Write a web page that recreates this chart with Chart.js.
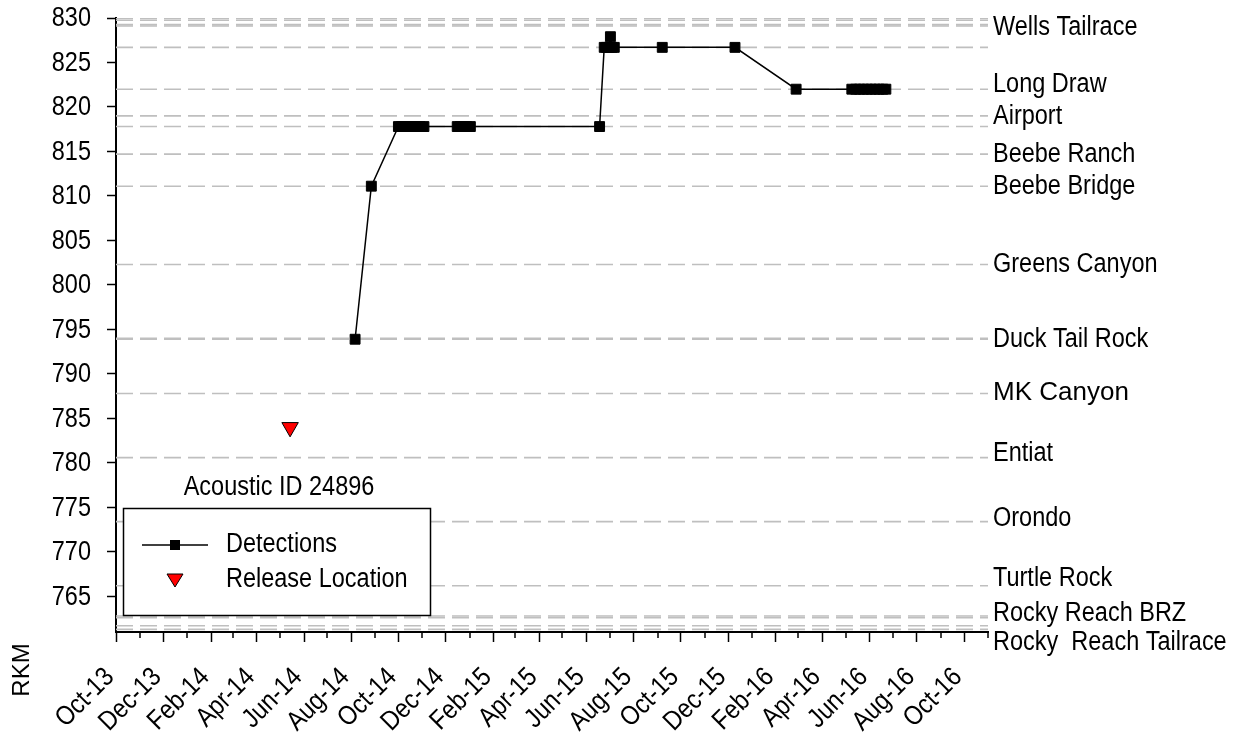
<!DOCTYPE html>
<html>
<head>
<meta charset="utf-8">
<title>Acoustic ID 24896</title>
<script src="https://cdn.jsdelivr.net/npm/chart.js@4/dist/chart.umd.min.js"></script>
<style>
  html, body { margin: 0; padding: 0; background: #ffffff; }
  #wrap { width: 1247px; height: 736px; position: relative; }
</style>
</head>
<body>
<div id="wrap"><canvas id="chart" width="1247" height="736"></canvas></div>
<script>
// ---- data ---------------------------------------------------------------
const chartTitle = 'Acoustic ID 24896';
const yAxisTitle = 'RKM';
const legendLabels = ['Detections', 'Release Location'];

// detections of the tagged fish (date, river kilometre)
const detectionDates = [
  '2014-08-06', '2014-08-27',
  '2014-10-01', '2014-10-05', '2014-10-09', '2014-10-13', '2014-10-17',
  '2014-10-21', '2014-10-25', '2014-10-29', '2014-11-03',
  '2014-12-16', '2014-12-20', '2014-12-24', '2014-12-28', '2015-01-02',
  '2015-06-18',
  '2015-06-24', '2015-06-27', '2015-06-30', '2015-07-02', '2015-07-04', '2015-07-07',
  '2015-09-07', '2015-12-10', '2016-02-27',
  '2016-05-09', '2016-05-14', '2016-05-19', '2016-05-24', '2016-05-29',
  '2016-06-03', '2016-06-08', '2016-06-13', '2016-06-18', '2016-06-22'
];
const detectionRkm = [
  793.9, 811.1,
  817.8, 817.8, 817.8, 817.8, 817.8,
  817.8, 817.8, 817.8, 817.8,
  817.8, 817.8, 817.8, 817.8, 817.8,
  817.8,
  826.7, 826.7, 826.7, 827.9, 826.7, 826.7,
  826.7, 826.7, 822.0,
  822.0, 822.0, 822.0, 822.0, 822.0,
  822.0, 822.0, 822.0, 822.0, 822.0
];

const releaseDates = ['2014-05-14'];
const releaseRkm = [784.0];

// receiver positions (dashed reference lines)
const receiverRkm = [
  829.95, 829.75, 829.25, 829.1, 826.7, 822.0, 819.0, 817.8, 814.7, 811.1,
  802.3, 794.0, 793.9, 787.8, 780.6, 773.4, 766.2, 762.8, 762.6, 761.7, 761.3
];

// receiver site names and where their names sit on the RKM axis
const stationNames = [
  'Wells Tailrace', 'Long Draw', 'Airport', 'Beebe Ranch', 'Beebe Bridge',
  'Greens Canyon', 'Duck Tail Rock', 'MK Canyon', 'Entiat', 'Orondo',
  'Turtle Rock', 'Rocky Reach BRZ', 'Rocky  Reach Tailrace'
];
const stationLabelRkm = [
  828.9, 822.5, 818.9, 814.7, 811.1,
  802.3, 793.9, 787.9, 781.0, 773.8,
  767.0, 763.1, 759.8
];
const regularFontStations = ['MK Canyon'];

// axes
const yMin = 761, yMax = 830;
const yTickValues = [765, 770, 775, 780, 785, 790, 795, 800, 805, 810, 815, 820, 825, 830];
const axisStart = '2013-10-01';
const axisEnd = '2016-11-01';
const xTickDates = [
  '2013-10-01', '2013-12-01', '2014-02-01', '2014-04-01', '2014-06-01', '2014-08-01',
  '2014-10-01', '2014-12-01', '2015-02-01', '2015-04-01', '2015-06-01', '2015-08-01',
  '2015-10-01', '2015-12-01', '2016-02-01', '2016-04-01', '2016-06-01', '2016-08-01',
  '2016-10-01'
];
const xTickLabels = [
  'Oct-13', 'Dec-13', 'Feb-14', 'Apr-14', 'Jun-14', 'Aug-14',
  'Oct-14', 'Dec-14', 'Feb-15', 'Apr-15', 'Jun-15', 'Aug-15',
  'Oct-15', 'Dec-15', 'Feb-16', 'Apr-16', 'Jun-16', 'Aug-16',
  'Oct-16'
];
const xMinorDates = [
  '2013-11-01', '2014-01-01', '2014-03-01', '2014-05-01', '2014-07-01', '2014-09-01',
  '2014-11-01', '2015-01-01', '2015-03-01', '2015-05-01', '2015-07-01', '2015-09-01',
  '2015-11-01', '2016-01-01', '2016-03-01', '2016-05-01', '2016-07-01', '2016-09-01',
  '2016-11-01'
];

// ---- helpers ------------------------------------------------------------
const SANS = "'Liberation Sans', Arial, sans-serif";
const TEXT_SIZE = 27;       // condensed text size
const CONDENSE = 0.87;      // horizontal squeeze giving a narrow face

function dayNumber(iso) {
  const [y, m, d] = iso.split('-').map(Number);
  return Date.UTC(y, m - 1, d) / 86400000;
}
const xMin = dayNumber(axisStart);
const xMax = dayNumber(axisEnd);

// draws one text item, optionally rotated and horizontally condensed
function drawText(ctx, text, x, y, o = {}) {
  ctx.save();
  ctx.translate(x, y);
  if (o.rotate) ctx.rotate(o.rotate);
  ctx.scale(o.squeeze ?? CONDENSE, 1);
  ctx.font = (o.size ?? TEXT_SIZE) + 'px ' + SANS;
  ctx.textAlign = o.align ?? 'left';
  ctx.textBaseline = 'middle';
  ctx.fillStyle = '#000';
  ctx.fillText(text, 0, 0);
  ctx.restore();
}

const detectionPoints = detectionDates.map((d, i) => ({ x: dayNumber(d), y: detectionRkm[i] }));
const releasePoints = releaseDates.map((d, i) => ({ x: dayNumber(d), y: releaseRkm[i] }));

const receiverDatasets = receiverRkm.map(v => ({
  data: [{ x: xMin, y: v }, { x: xMax, y: v }],
  borderColor: '#bfbfbf',
  borderWidth: 1.6,
  borderDash: [17, 7],
  pointRadius: 0,
  fill: false,
  order: 10
}));

// ---- custom drawing: tick labels, minor ticks, legend box, site names ----
const decorations = {
  id: 'decorations',
  afterDraw(chart) {
    const ctx = chart.ctx;
    const x = chart.scales.x;
    const y = chart.scales.y;
    const area = chart.chartArea;

    ctx.save();
    // minor month ticks on the date axis
    ctx.strokeStyle = '#000';
    ctx.lineWidth = 1.5;
    ctx.beginPath();
    xMinorDates.forEach(d => {
      const px = Math.round(x.getPixelForValue(dayNumber(d)));
      ctx.moveTo(px, area.bottom);
      ctx.lineTo(px, area.bottom + 6);
    });
    ctx.stroke();

    // RKM tick labels
    y.ticks.forEach(t => {
      drawText(ctx, String(t.value), area.left - 25, y.getPixelForValue(t.value) + 1, { align: 'right' });
    });

    // date tick labels, rotated 45 degrees and ending at their tick
    xTickDates.forEach((d, i) => {
      const px = x.getPixelForValue(dayNumber(d));
      drawText(ctx, xTickLabels[i], px - 6, area.bottom + 41, { align: 'right', rotate: -Math.PI / 4 });
    });

    // legend box
    const box = { left: 123, top: 508, right: 430, bottom: 615 };
    ctx.fillStyle = '#fff';
    ctx.fillRect(box.left, box.top, box.right - box.left, box.bottom - box.top);
    ctx.strokeStyle = '#000';
    ctx.lineWidth = 1.5;
    ctx.strokeRect(box.left + 0.5, box.top + 0.5, box.right - box.left, box.bottom - box.top);

    // legend sample: detections line with square marker
    const rowY1 = 545, rowY2 = 580, sampleX = 175;
    ctx.beginPath();
    ctx.lineWidth = 1.5;
    ctx.moveTo(142, rowY1);
    ctx.lineTo(208, rowY1);
    ctx.stroke();
    ctx.fillStyle = '#000';
    ctx.fillRect(sampleX - 5, rowY1 - 5, 10, 10);

    // legend sample: release triangle
    ctx.beginPath();
    ctx.moveTo(sampleX - 8, rowY2 - 6);
    ctx.lineTo(sampleX + 8, rowY2 - 6);
    ctx.lineTo(sampleX, rowY2 + 7);
    ctx.closePath();
    ctx.fillStyle = '#ff0000';
    ctx.fill();
    ctx.lineWidth = 1;
    ctx.strokeStyle = '#000';
    ctx.stroke();

    drawText(ctx, legendLabels[0], 226, rowY1);
    drawText(ctx, legendLabels[1], 226, rowY2);

    // chart title above the legend
    drawText(ctx, chartTitle, 279, 488, { align: 'center' });

    // receiver site names on the right
    stationNames.forEach((name, i) => {
      const regular = regularFontStations.includes(name);
      drawText(ctx, name, area.right + 5, y.getPixelForValue(stationLabelRkm[i]),
        regular ? { size: 26, squeeze: 1 } : {});
    });

    // axis title
    drawText(ctx, yAxisTitle, 22, 670, { align: 'center', rotate: -Math.PI / 2, size: 24, squeeze: 1 });

    ctx.restore();
  }
};

new Chart(document.getElementById('chart'), {
  type: 'line',
  data: {
    datasets: [
      {
        label: legendLabels[0],
        data: detectionPoints,
        borderColor: '#000',
        borderWidth: 1.5,
        pointStyle: 'rect',
        pointRadius: 7,
        pointBackgroundColor: '#000',
        pointBorderColor: '#000',
        pointBorderWidth: 1,
        fill: false,
        order: 1
      },
      {
        label: legendLabels[1],
        data: releasePoints,
        showLine: false,
        pointStyle: 'triangle',
        rotation: 180,
        pointRadius: 9.5,
        pointBackgroundColor: '#ff0000',
        pointBorderColor: '#000',
        pointBorderWidth: 1,
        order: 0
      },
      ...receiverDatasets
    ]
  },
  options: {
    responsive: false,
    animation: false,
    layout: { padding: { top: 18, right: 259, left: 0, bottom: 0 } },
    plugins: { legend: { display: false }, tooltip: { enabled: false } },
    scales: {
      x: {
        type: 'linear',
        min: xMin,
        max: xMax,
        afterBuildTicks: s => { s.ticks = xTickDates.map(d => ({ value: dayNumber(d) })); },
        afterFit: s => { s.height = 104; },
        ticks: { display: false },
        grid: { drawOnChartArea: false, drawTicks: true, tickLength: 10, color: '#000', tickWidth: 1.5 },
        border: { display: true, color: '#000', width: 2 }
      },
      y: {
        type: 'linear',
        min: yMin,
        max: yMax,
        afterBuildTicks: s => { s.ticks = yTickValues.map(v => ({ value: v })); },
        afterFit: s => { s.width = 116; },
        ticks: { display: false },
        grid: { drawOnChartArea: false, drawTicks: true, tickLength: 9, color: '#000', tickWidth: 1.5 },
        border: { display: true, color: '#000', width: 2 }
      }
    }
  },
  plugins: [decorations]
});
</script>
</body>
</html>
